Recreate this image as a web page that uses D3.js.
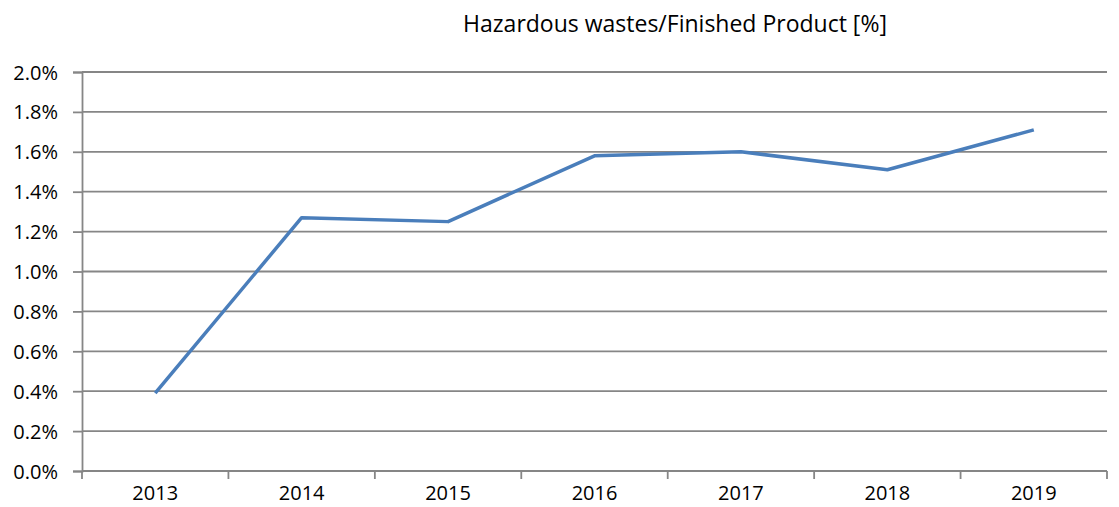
<!DOCTYPE html>
<html>
<head>
<meta charset="utf-8">
<script src="https://cdn.jsdelivr.net/npm/d3@7"></script>
<style>
  body { margin: 0; background: #fff; }
  svg { display: block; }
  text { font-family: "Open Sans", "Liberation Sans", sans-serif; fill: #000; }
</style>
</head>
<body>
<div id="chart"></div>
<script>
// data
const years = ["2013", "2014", "2015", "2016", "2017", "2018", "2019"]
const values = [0.39, 1.27, 1.25, 1.58, 1.60, 1.51, 1.71]
const yTicks = [0, 0.2, 0.4, 0.6, 0.8, 1.0, 1.2, 1.4, 1.6, 1.8, 2.0]
const title = "Hazardous wastes/Finished Product [%]"

const dimensions = {
  width: 1119,
  height: 507,
  margin: { top: 72, right: 12, bottom: 36, left: 82 },
}
dimensions.boundedWidth = dimensions.width - dimensions.margin.left - dimensions.margin.right
dimensions.boundedHeight = dimensions.height - dimensions.margin.top - dimensions.margin.bottom

const wrapper = d3.select("#chart")
  .append("svg")
    .attr("width", dimensions.width)
    .attr("height", dimensions.height)

const bounds = wrapper.append("g")
  .attr("transform", `translate(${dimensions.margin.left},${dimensions.margin.top})`)

const yScale = d3.scaleLinear()
  .domain([0, 2.0])
  .range([dimensions.boundedHeight, 0])

const xScale = d3.scaleBand()
  .domain(years)
  .range([0, dimensions.boundedWidth])

const xCenter = d => xScale(d) + xScale.bandwidth() / 2

const gridColor = "#868686"

// gridlines
bounds.append("g")
  .selectAll("line")
  .data(yTicks.filter(d => d > 0))
  .join("line")
    .attr("x1", 0)
    .attr("x2", dimensions.boundedWidth)
    .attr("y1", d => yScale(d))
    .attr("y2", d => yScale(d))
    .attr("stroke", gridColor)
    .attr("stroke-width", 1.8)

// y axis
const yAxis = bounds.append("g")
  .call(d3.axisLeft(yScale)
    .tickValues(yTicks)
    .tickSize(9)
    .tickPadding(15)
    .tickFormat(d => d.toFixed(1) + "%"))
yAxis.select(".domain").attr("stroke", gridColor).attr("stroke-width", 1.8)
yAxis.selectAll(".tick line").attr("stroke", gridColor).attr("stroke-width", 1.8)
yAxis.selectAll(".tick text").style("font-size", "20px").attr("dy", "0.35em")

// x axis with ticks between categories
const xAxis = bounds.append("g")
  .attr("transform", `translate(0,${dimensions.boundedHeight})`)
xAxis.append("line")
  .attr("x1", 0).attr("x2", dimensions.boundedWidth)
  .attr("stroke", gridColor).attr("stroke-width", 1.8)
xAxis.selectAll(".xtick")
  .data(years.concat(["end"]))
  .join("line")
    .attr("class", "xtick")
    .attr("x1", (d, i) => i < years.length ? xScale(d) : dimensions.boundedWidth)
    .attr("x2", (d, i) => i < years.length ? xScale(d) : dimensions.boundedWidth)
    .attr("y1", 0).attr("y2", 8)
    .attr("stroke", gridColor).attr("stroke-width", 1.8)
xAxis.selectAll(".xlabel")
  .data(years)
  .join("text")
    .attr("class", "xlabel")
    .attr("x", d => xCenter(d))
    .attr("y", 29)
    .attr("text-anchor", "middle")
    .style("font-size", "20px")
    .text(d => d)

// the line
const lineGenerator = d3.line()
  .x((d, i) => xCenter(years[i]))
  .y(d => yScale(d))

bounds.append("path")
  .attr("d", lineGenerator(values))
  .attr("fill", "none")
  .attr("stroke", "#4a7ebb")
  .attr("stroke-width", 3.5)
  .attr("stroke-linejoin", "round")

// title
wrapper.append("text")
  .attr("x", 675)
  .attr("y", 32)
  .attr("text-anchor", "middle")
  .style("font-size", "23px")
  .text(title)
</script>
</body>
</html>
